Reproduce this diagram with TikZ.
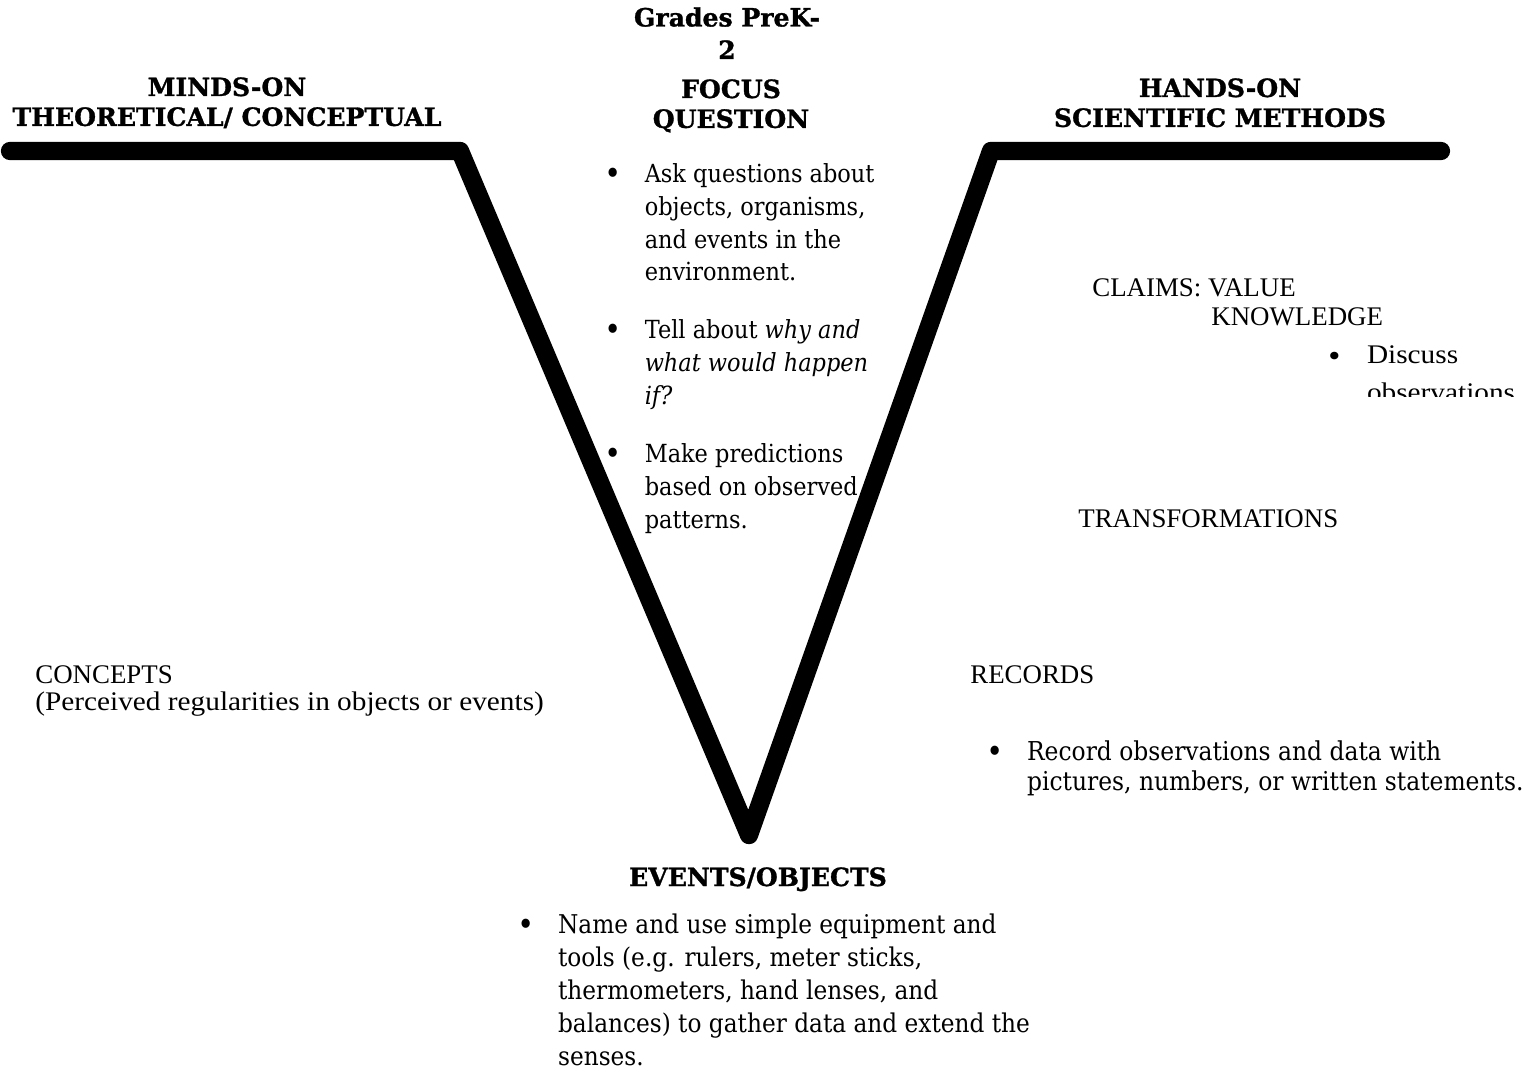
\documentclass[tikz,border=0pt]{standalone}
\usepackage{fontspec}
\setmainfont{Liberation Serif}
\newfontfamily\headfont[BoldFeatures={FakeBold=1.2}]{DejaVu Serif}
\newfontfamily\listfont[FakeStretch=0.9]{DejaVu Serif}
\newfontfamily\lowfont[FakeStretch=1.09]{Liberation Serif}
\usetikzlibrary{positioning}
% bullet in a box of fixed width
\newcommand{\bul}[1]{\makebox[#1][l]{\raisebox{-1.3pt}{\fontsize{18}{18}\selectfont\textbullet}}}
\tikzset{
    % the thick V
    vline/.style={
           line width=10.4pt,
           line join=round,
           line cap=round},
    % bold headings
    headtxt/.style={
           font=\headfont\bfseries\fontsize{14.3}{17}\selectfont,
           align=center,
           inner sep=0pt,
           anchor=north},
    % bullet lists
    listtxt/.style={
           font=\listfont\fontsize{14.2}{18.7}\selectfont,
           inner sep=0pt,
           anchor=north west},
    % plain labels
    lbltxt/.style={
           font=\fontsize{15.3}{15.3}\selectfont,
           inner sep=0pt,
           anchor=base west}
}
\begin{document}
\begin{tikzpicture}[x=0.02cm, y=-0.02cm]
  \useasboundingbox (0,0) rectangle (1536,1081);
  % the V
  \coordinate (lend) at (10,151);
  \coordinate (lknee) at (460,151);
  \coordinate (vtip) at (749,835);
  \coordinate (rknee) at (991,151);
  \coordinate (rend) at (1441,151);
  \draw[vline] (lend) -- (lknee) -- (vtip) -- (rknee) -- (rend);

  % headings
  \node[headtxt, font=\headfont\bfseries\fontsize{14.3}{18.5}\selectfont] (grades) at (727,7) {Grades PreK-\\2};
  \node[headtxt] (focus) at (731,79) {FOCUS\\QUESTION};
  \node[headtxt] (minds) at (227,77) {MINDS-ON\\THEORETICAL/ CONCEPTUAL};
  \node[headtxt] (hands) at (1220,78) {HANDS-ON\\SCIENTIFIC METHODS};
  \node[headtxt] (events) at (758,867) {EVENTS/OBJECTS};

  % focus question items
  \node[listtxt] (ask) at (604,159) {\begin{tabular}{@{}l@{}l@{}}
      \bul{23pt} & Ask questions about\\
       & objects, organisms,\\
       & and events in the\\
       & environment.\end{tabular}};
  \node[listtxt] (tell) at (604,315) {\begin{tabular}{@{}l@{}l@{}}
      \bul{23pt} & Tell about \textit{why and}\\
       & \textit{what would happen}\\
       & \textit{if?}\end{tabular}};
  \node[listtxt] (predict) at (604,439) {\begin{tabular}{@{}l@{}l@{}}
      \bul{23pt} & Make predictions\\
       & based on observed\\
       & patterns.\end{tabular}};

  % events / objects item
  \node[listtxt, font=\listfont\fontsize{14.7}{18.8}\selectfont] (tools) at (517,910) {\begin{tabular}{@{}l@{}l@{}}
      \bul{23.2pt} & Name and use simple equipment and\\
       & tools (e.g. rulers, meter sticks,\\
       & thermometers, hand lenses, and\\
       & balances) to gather data and extend the\\
       & senses.\end{tabular}};

  % right side
  \node[lbltxt] (claims) at (1092,297) {CLAIMS: VALUE};
  \node[lbltxt] (knowledge) at (1211,326) {KNOWLEDGE};
  \begin{scope}
    \clip (1300,330) rectangle (1536,397);
    \node[listtxt, font=\lowfont\fontsize{15.3}{21.5}\selectfont] (discuss) at (1328,337) {\begin{tabular}{@{}l@{}l@{}}
        \bul{22pt} & Discuss\\
         & observations\end{tabular}};
  \end{scope}
  \node[lbltxt] (transf) at (1078,527) {TRANSFORMATIONS};
  \node[lbltxt] (records) at (970,683) {RECORDS};
  \node[listtxt, font=\listfont\fontsize{14.8}{17}\selectfont] (recobs) at (986,739) {\begin{tabular}{@{}l@{}l@{}}
      \bul{23.2pt} & Record observations and data with\\
       & pictures, numbers, or written statements.\end{tabular}};

  % left side
  \node[lbltxt, anchor=north west, font=\fontsize{15.3}{15.3}\selectfont] (concepts) at (35,664) {\begin{tabular}{@{}l@{}}
      CONCEPTS\\
      {\lowfont (Perceived regularities in objects or events)}\end{tabular}};
\end{tikzpicture}
\end{document}
